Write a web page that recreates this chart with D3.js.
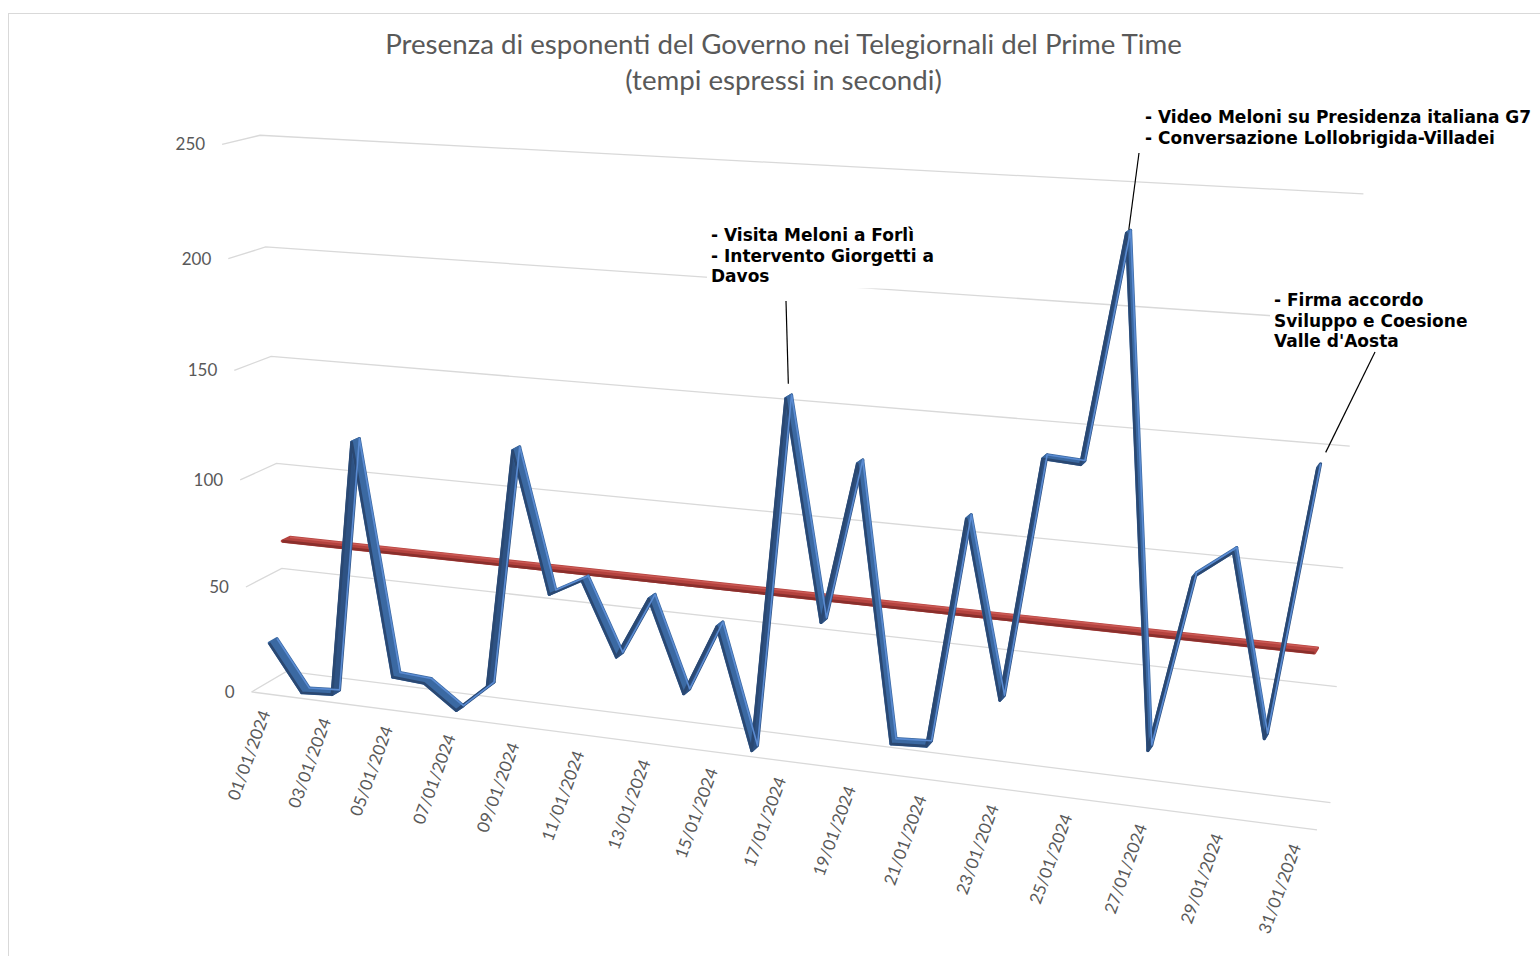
<!DOCTYPE html>
<html>
<head>
<meta charset="utf-8">
<script src="https://cdn.jsdelivr.net/npm/d3@7"></script>
<style>
  body { margin: 0; background: #fff; }
  .tick { font-family: Lato, "Liberation Sans", sans-serif; font-size: 17px; fill: #595959; }
  .note { font-family: "DejaVu Sans", Verdana, sans-serif; font-weight: bold; font-size: 17px; fill: #000; }
</style>
</head>
<body>
<div class="graph"></div>
<script>
var width = 1540,
    height = 956;

// categories and values
var dates = ["01/01/2024", "02/01/2024", "03/01/2024", "04/01/2024", "05/01/2024", "06/01/2024",
  "07/01/2024", "08/01/2024", "09/01/2024", "10/01/2024", "11/01/2024", "12/01/2024",
  "13/01/2024", "14/01/2024", "15/01/2024", "16/01/2024", "17/01/2024", "18/01/2024",
  "19/01/2024", "20/01/2024", "21/01/2024", "22/01/2024", "23/01/2024", "24/01/2024",
  "25/01/2024", "26/01/2024", "27/01/2024", "28/01/2024", "29/01/2024", "30/01/2024",
  "31/01/2024"];
var seconds = [23, 1, 2, 121, 14, 13, 2, 15, 124, 61, 69, 36, 64, 23, 55, 1,
  157, 62, 132, 12, 13, 113, 37, 141, 140, 234, 23, 98, 110, 34, 147];
var media = 66.9;
var yTicks = [0, 50, 100, 150, 200, 250];
var titleLines = ["Presenza di esponenti del Governo nei Telegiornali del Prime Time",
  "(tempi espressi in secondi)"];
var notes = [
  { day: "17/01/2024", lines: ["- Visita Meloni a Forlì", "- Intervento Giorgetti a", "Davos"], x: 711, y: 241, lx: 786, ly: 301, gap: 13 },
  { day: "26/01/2024", lines: ["- Video Meloni su Presidenza italiana G7", "- Conversazione Lollobrigida-Villadei"], x: 1145, y: 123, lx: 1139, ly: 153, gap: 2 },
  { day: "31/01/2024", lines: ["- Firma accordo", "Sviluppo e Coesione", "Valle d'Aosta"], x: 1274, y: 306, lx: 1375, ly: 352, gap: 15 }
];

// perspective camera of the 3d plot box: (x 0..1, y 0..1, depth 0 front..1 back) -> pixels/1000
var camera = [
  [0.8975693, -0.04096576, 0.04179263, 0.2516029],
  [0.03219377, -0.5549953, -0.005628391, 0.6919664],
  [-0.1274505, -0.05165966, 0.02259167, 1]
];
function project(X, Y, Z) {
  var c = camera,
      w = c[2][0] * X + c[2][1] * Y + c[2][2] * Z + c[2][3];
  return [1000 * (c[0][0] * X + c[0][1] * Y + c[0][2] * Z + c[0][3]) / w,
          1000 * (c[1][0] * X + c[1][1] * Y + c[1][2] * Z + c[1][3]) / w];
}

var x = d3.scaleBand().domain(dates).range([0, 1]),
    y = d3.scaleLinear().domain([0, 250]).range([0, 1]);
function xc(d) { return x(d) + x.bandwidth() / 2; }

var blueZ = 0.25, redZ = 0.75, halfDepth = 0.11;

var svg = d3.select(".graph").append("svg")
    .attr("width", width)
    .attr("height", height);

// chart frame
svg.append("rect")
    .attr("x", 8.5).attr("y", 13.5)
    .attr("width", 1700).attr("height", 1100)
    .attr("fill", "none").attr("stroke", "#d9d9d9");

// gridlines on left wall and back wall
var grid = svg.append("g");
yTicks.forEach(function(v) {
  var p = [project(0, y(v), 0), project(0, y(v), 1), project(1, y(v), 1)];
  grid.append("path")
      .attr("d", d3.line()(p))
      .attr("fill", "none")
      .attr("stroke", "#d9d9d9")
      .attr("stroke-width", 1.3);
});
grid.append("path")
    .attr("d", d3.line()([project(0, 0, 0), project(1, 0, 0)]))
    .attr("fill", "none")
    .attr("stroke", "#d9d9d9")
    .attr("stroke-width", 1.3);

// value labels
svg.append("g").selectAll("text")
    .data(yTicks)
    .enter().append("text")
      .attr("class", "tick")
      .attr("text-anchor", "end")
      .attr("x", function(d) { return project(0, y(d), 0)[0] - 17; })
      .attr("y", function(d) { return project(0, y(d), 0)[1]; })
      .attr("dy", "0.35em")
      .text(function(d) { return d; });

// date labels, every other day
svg.append("g").selectAll("text")
    .data(dates.filter(function(d, i) { return i % 2 === 0; }))
    .enter().append("text")
      .attr("class", "tick")
      .attr("text-anchor", "end")
      .attr("transform", function(d) {
        var p = project(xc(d), 0, 0);
        return "translate(" + (p[0] + 4) + "," + (p[1] + 19) + ") rotate(-70)";
      })
      .text(function(d) { return d; });

// 3d ribbon: band across depth, shaded by which side faces the viewer
function ribbon(g, pts, z, col) {
  var f = pts.map(function(p) { return project(p[0], p[1], z - halfDepth); }),
      b = pts.map(function(p) { return project(p[0], p[1], z + halfDepth); });
  d3.range(pts.length - 1).forEach(function(k) {
    var quad = [f[k], f[k + 1], b[k + 1], b[k]];
    var c = d3.polygonArea(quad) < 0 ? col.up : col.down;
    g.append("path")
        .attr("d", "M" + quad.join("L") + "Z")
        .attr("fill", c)
        .attr("stroke", c)
        .attr("stroke-width", 3)
        .attr("stroke-linejoin", "round");
  });
  g.append("path")
      .attr("d", d3.line()(f))
      .attr("fill", "none")
      .attr("stroke", col.front)
      .attr("stroke-width", 2.6)
      .attr("stroke-linejoin", "round");
  g.append("path")
      .attr("d", d3.line()(b))
      .attr("fill", "none")
      .attr("stroke", col.back)
      .attr("stroke-width", 1.6)
      .attr("stroke-linejoin", "round");
}

var series = svg.append("g");
ribbon(series.append("g"),
  [[xc(dates[0]), y(media)], [xc(dates[dates.length - 1]), y(media)]],
  redZ, { up: "#a83e3a", down: "#b4433f", front: "#8a2f2c", back: "#cc5a55" });
ribbon(series.append("g"),
  dates.map(function(d, i) { return [xc(d), y(seconds[i])]; }),
  blueZ, { up: "#2e5283", down: "#3b69a2", front: "#2a4872", back: "#5a8bd2" });

// annotations with leader lines
var ann = svg.append("g");
notes.forEach(function(n) {
  var box = ann.append("rect").attr("fill", "#fff");
  var t = ann.append("text").attr("class", "note");
  n.lines.forEach(function(l, i) {
    t.append("tspan").attr("x", n.x).attr("y", n.y + i * 20.7).text(l);
  });
  var bb = t.node().getBBox();
  box.attr("x", bb.x - 4).attr("y", bb.y - 2).attr("width", bb.width + 8).attr("height", bb.height + 4);
  var i = dates.indexOf(n.day),
      p = project(xc(n.day), y(seconds[i]), blueZ),
      dx = n.lx - p[0], dy = n.ly - p[1], len = Math.sqrt(dx * dx + dy * dy);
  ann.append("line")
      .attr("x1", n.lx).attr("y1", n.ly)
      .attr("x2", p[0] + dx / len * n.gap).attr("y2", p[1] + dy / len * n.gap)
      .attr("stroke", "#000")
      .attr("stroke-width", 1.2);
});

// title, sized to the width it takes in the original
var title = svg.append("g")
    .attr("font-family", "Lato, 'Liberation Sans', sans-serif")
    .attr("fill", "#595959")
    .attr("text-anchor", "middle");
var t1 = title.append("text").attr("x", 783.5).attr("y", 54).attr("font-size", 24).text(titleLines[0]);
var fs = 24 * 797 / t1.node().getComputedTextLength();
t1.attr("font-size", fs);
title.append("text").attr("x", 783.5).attr("y", 90).attr("font-size", fs).text(titleLines[1]);
</script>
</body>
</html>
